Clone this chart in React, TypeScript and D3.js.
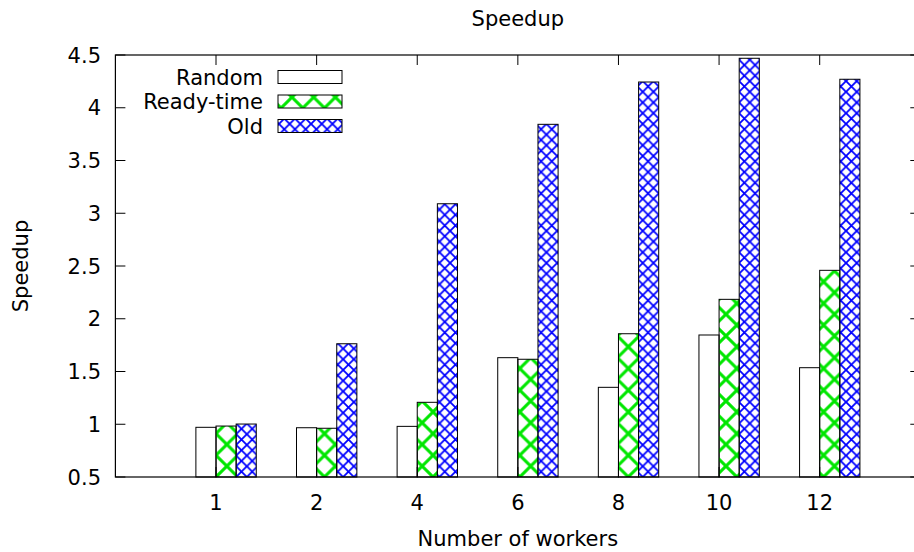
import React, { useEffect, useRef } from "react";
import * as d3 from "d3";

// chart values
const workers = ["1", "2", "4", "6", "8", "10", "12"];
const seriesNames = ["Random", "Ready-time", "Old"];
const randomSpeedup = [0.971, 0.967, 0.98, 1.631, 1.35, 1.846, 1.536];
const readyTimeSpeedup = [0.983, 0.962, 1.208, 1.616, 1.858, 2.184, 2.459];
const oldSpeedup = [1.002, 1.763, 3.09, 3.843, 4.244, 4.469, 4.27];
const yTicks = [0.5, 1, 1.5, 2, 2.5, 3, 3.5, 4, 4.5];

const App = () => {
    const chartRef = useRef<HTMLDivElement>(null);

    useEffect(() => {
        d3.select(chartRef.current).select("svg").remove();

        const width = 914;
        const height = 552;
        const font = "'DejaVu Sans', sans-serif";
        const fontSize = "21px";

        const svg = d3
            .select(chartRef.current)
            .append("svg")
            .attr("width", width)
            .attr("height", height)
            .style("display", "block")
            .style("position", "absolute")
            .style("left", "0px")
            .style("top", "0px")
            .style("font-family", font);

        // plot box (right border sits just past the window edge, as in the reference)
        const left = 115.4;
        const right = 920.3;
        const top = 55;
        const bottom = 477;

        // x in cluster-index units, one unit per worker group
        const xScale = d3.scaleLinear().domain([-1, workers.length]).range([left, right]);
        const yScale = d3.scaleLinear().domain([0.5, 4.5]).range([bottom, top]);
        const barW = 0.2;

        // fill patterns
        const defs = svg.append("defs");
        const gTile = 21.7;
        const green = defs
            .append("pattern")
            .attr("id", "pat-green")
            .attr("patternUnits", "userSpaceOnUse")
            .attr("x", xScale(0))
            .attr("y", bottom)
            .attr("width", gTile)
            .attr("height", gTile);
        green.append("path")
            .attr("d", `M0,0L${gTile},${gTile}M${gTile},0L0,${gTile}`)
            .attr("stroke", "#00e600")
            .attr("stroke-width", 3)
            .attr("fill", "none");

        const bTile = 10.7;
        const blue = defs
            .append("pattern")
            .attr("id", "pat-blue")
            .attr("patternUnits", "userSpaceOnUse")
            .attr("x", xScale(0.2))
            .attr("y", bottom)
            .attr("width", bTile)
            .attr("height", bTile);
        blue.append("path")
            .attr("d", `M0,0L${bTile},${bTile}M${bTile},0L0,${bTile}`)
            .attr("stroke", "#0000ff")
            .attr("stroke-width", 1.8)
            .attr("fill", "none");

        const fills = ["#ffffff", "url(#pat-green)", "url(#pat-blue)"];
        const series = [randomSpeedup, readyTimeSpeedup, oldSpeedup];

        // bars
        series.forEach((values, s) => {
            svg.append("g")
                .selectAll("rect")
                .data(values)
                .enter()
                .append("rect")
                .attr("x", (d, i) => xScale(i - barW + s * barW))
                .attr("y", (d) => yScale(d))
                .attr("width", xScale(barW) - xScale(0))
                .attr("height", (d) => yScale(0.5) - yScale(d))
                .attr("fill", fills[s])
                .attr("stroke", "#000")
                .attr("stroke-width", 1);
        });

        // border
        svg.append("rect")
            .attr("x", left)
            .attr("y", top)
            .attr("width", right - left)
            .attr("height", bottom - top)
            .attr("fill", "none")
            .attr("stroke", "#000")
            .attr("stroke-width", 1.2);

        const tickLen = 10;

        // y ticks, mirrored on the right
        yTicks.forEach((t) => {
            const y = yScale(t);
            svg.append("line")
                .attr("x1", left).attr("x2", left + tickLen)
                .attr("y1", y).attr("y2", y)
                .attr("stroke", "#000");
            svg.append("line")
                .attr("x1", right).attr("x2", right - tickLen)
                .attr("y1", y).attr("y2", y)
                .attr("stroke", "#000");
            svg.append("text")
                .attr("x", 101)
                .attr("y", y)
                .attr("dy", "0.36em")
                .attr("text-anchor", "end")
                .style("font-size", fontSize)
                .text(String(t));
        });

        // x ticks, mirrored on top
        workers.forEach((w, i) => {
            const x = xScale(i);
            svg.append("line")
                .attr("x1", x).attr("x2", x)
                .attr("y1", bottom).attr("y2", bottom - tickLen)
                .attr("stroke", "#000");
            svg.append("line")
                .attr("x1", x).attr("x2", x)
                .attr("y1", top).attr("y2", top + tickLen)
                .attr("stroke", "#000");
            svg.append("text")
                .attr("x", x)
                .attr("y", 509.5)
                .attr("text-anchor", "middle")
                .style("font-size", fontSize)
                .text(w);
        });

        // title and axis labels
        const midX = (left + right) / 2;
        svg.append("text")
            .attr("x", midX)
            .attr("y", 25.5)
            .attr("text-anchor", "middle")
            .style("font-size", fontSize)
            .text("Speedup");

        svg.append("text")
            .attr("x", midX)
            .attr("y", 545.5)
            .attr("text-anchor", "middle")
            .style("font-size", fontSize)
            .text("Number of workers");

        svg.append("text")
            .attr("transform", `translate(28,${(top + bottom) / 2}) rotate(-90)`)
            .attr("text-anchor", "middle")
            .style("font-size", fontSize)
            .text("Speedup");

        // legend
        seriesNames.forEach((name, i) => {
            const cy = 77 + i * 24.5;
            svg.append("text")
                .attr("x", 263)
                .attr("y", cy + 7.5)
                .attr("text-anchor", "end")
                .style("font-size", fontSize)
                .text(name);
            svg.append("rect")
                .attr("x", 278)
                .attr("y", cy - 6.5)
                .attr("width", 64)
                .attr("height", 13)
                .attr("fill", fills[i])
                .attr("stroke", "#000")
                .attr("stroke-width", 1);
        });
    }, []);

    return <div ref={chartRef}></div>;
};

export default App;
